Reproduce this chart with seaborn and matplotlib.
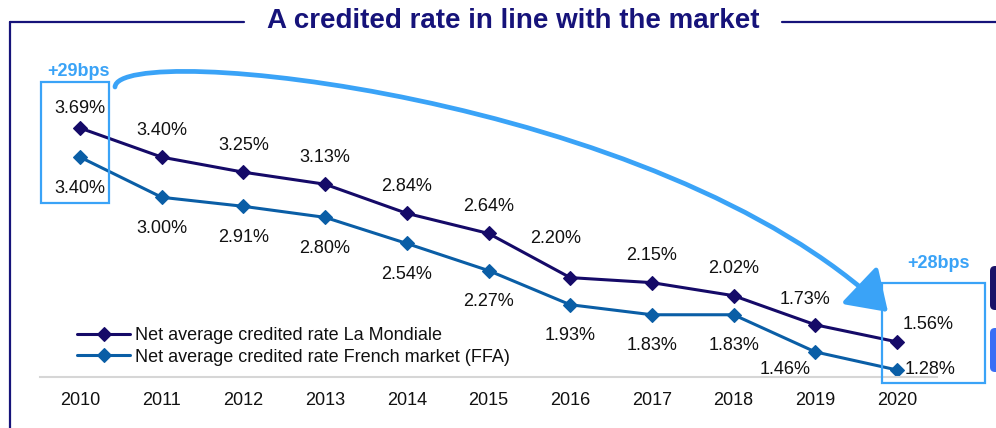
import numpy as np
import pandas as pd
import seaborn as sns
import matplotlib.pyplot as plt
from matplotlib.path import Path
from matplotlib.patches import FancyArrowPatch, Rectangle, FancyBboxPatch

years = [2010, 2011, 2012, 2013, 2014, 2015, 2016, 2017, 2018, 2019, 2020]
mondiale = [3.69, 3.40, 3.25, 3.13, 2.84, 2.64, 2.20, 2.15, 2.02, 1.73, 1.56]
ffa = [3.40, 3.00, 2.91, 2.80, 2.54, 2.27, 1.93, 1.83, 1.83, 1.46, 1.28]
label_mondiale = "Net average credited rate La Mondiale"
label_ffa = "Net average credited rate French market (FFA)"
title = "A credited rate in line with the market"
gap_start = "+29bps"
gap_end = "+28bps"

navy = "#150a68"
blue = "#0a5ea6"
light = "#3aa3f7"
title_col = "#16137a"

sns.set_style("white")
plt.rcParams['font.family'] = ['Liberation Sans', 'DejaVu Sans']

fig = plt.figure(figsize=(9.96, 4.28), dpi=100)
W, H = 996, 428
ax = fig.add_axes([40 / W, 1 - 377 / H, (937 - 40) / W, (377 - 22) / H])

df = pd.DataFrame({"year": years, "m": mondiale, "f": ffa})
sns.lineplot(data=df, x="year", y="m", ax=ax, color=navy, lw=2.2, marker="D",
             markersize=7.5, markeredgewidth=0.8, markeredgecolor=navy, label=label_mondiale)
sns.lineplot(data=df, x="year", y="f", ax=ax, color=blue, lw=2.2, marker="D",
             markersize=7.5, markeredgewidth=0.8, markeredgecolor=blue, label=label_ffa)

ax.set_xlim(2009.51, 2020.49)
ax.set_ylim(1.21, 4.746)
ax.set_xticks(years)
ax.set_xticklabels([str(y) for y in years])
ax.set_yticks([])
ax.set_xlabel("")
ax.set_ylabel("")
for s in ["top", "right", "left"]:
    ax.spines[s].set_visible(False)
ax.spines["bottom"].set_color("#d6d6d6")
ax.spines["bottom"].set_linewidth(1.5)
ax.tick_params(axis="x", direction="in", length=3.5, width=1, color="#d6d6d6",
               pad=11, labelsize=13, labelcolor="#111111")
ax.patch.set_alpha(0)

# data labels (offsets in pixels)
px = 0.72
nudge_m = {2010: (0, 20), 2016: (-15, 39), 2019: (-10, 25), 2020: (31, 17)}
nudge_f = {2019: (-30, -18), 2020: (33, 0)}
for y, v in zip(years, mondiale):
    dx, dy = nudge_m.get(y, (0, 27))
    ax.annotate(f"{v:.2f}%", (y, v), xytext=(dx * px, dy * px), textcoords="offset points",
                ha="center", va="center", fontsize=13, color="#111111")
for y, v in zip(years, ffa):
    dx, dy = nudge_f.get(y, (0, -31))
    ax.annotate(f"{v:.2f}%", (y, v), xytext=(dx * px, dy * px), textcoords="offset points",
                ha="center", va="center", fontsize=13, color="#111111")

ax.legend(loc="upper left", bbox_to_anchor=(77 / W, 1 - 327 / H), bbox_transform=fig.transFigure,
          frameon=False, fontsize=13, handlelength=2.94, handletextpad=0.28,
          labelspacing=0.25, borderpad=0, borderaxespad=0, labelcolor="#111111")

# overlay in pixel coordinates for frame and annotations
ov = fig.add_axes([0, 0, 1, 1], zorder=5)
ov.set_xlim(0, W)
ov.set_ylim(H, 0)
ov.axis("off")
ov.patch.set_alpha(0)

ov.plot([10, 10], [22, H], color=title_col, lw=1.6)
ov.plot([10, 244], [22, 22], color=title_col, lw=1.6)
ov.plot([782, W], [22, 22], color=title_col, lw=1.6)
ov.text(513, 21, title, ha="center", va="center", fontsize=20, fontweight="bold", color=title_col)

ov.add_patch(Rectangle((41, 82), 68, 121, fill=False, ec=light, lw=1.6))
ov.add_patch(Rectangle((882, 283), 103, 100, fill=False, ec=light, lw=1.6))
ov.text(78, 71, gap_start, ha="center", va="center", fontsize=13, fontweight="bold", color=light)
ov.text(938, 264, gap_end, ha="center", va="center", fontsize=13, fontweight="bold", color=light)

curve = Path([(115, 87), (118, 40), (660, 95), (888, 312)],
             [Path.MOVETO, Path.CURVE4, Path.CURVE4, Path.CURVE4])
arrow = FancyArrowPatch(path=curve, arrowstyle="-|>,head_length=0.24,head_width=0.16",
                        mutation_scale=100, color=light, lw=3.4, capstyle="round",
                        shrinkA=0, shrinkB=0)
ov.add_patch(arrow)

# cropped side boxes at the right edge
ov.add_patch(FancyBboxPatch((992, 268), 20, 40, boxstyle="round,pad=2,rounding_size=5",
                            fc="#1a1268", ec="none"))
ov.add_patch(FancyBboxPatch((992, 330), 20, 40, boxstyle="round,pad=2,rounding_size=5",
                            fc="#3a6ef5", ec="none"))

fig.savefig("out.png", dpi=100)
